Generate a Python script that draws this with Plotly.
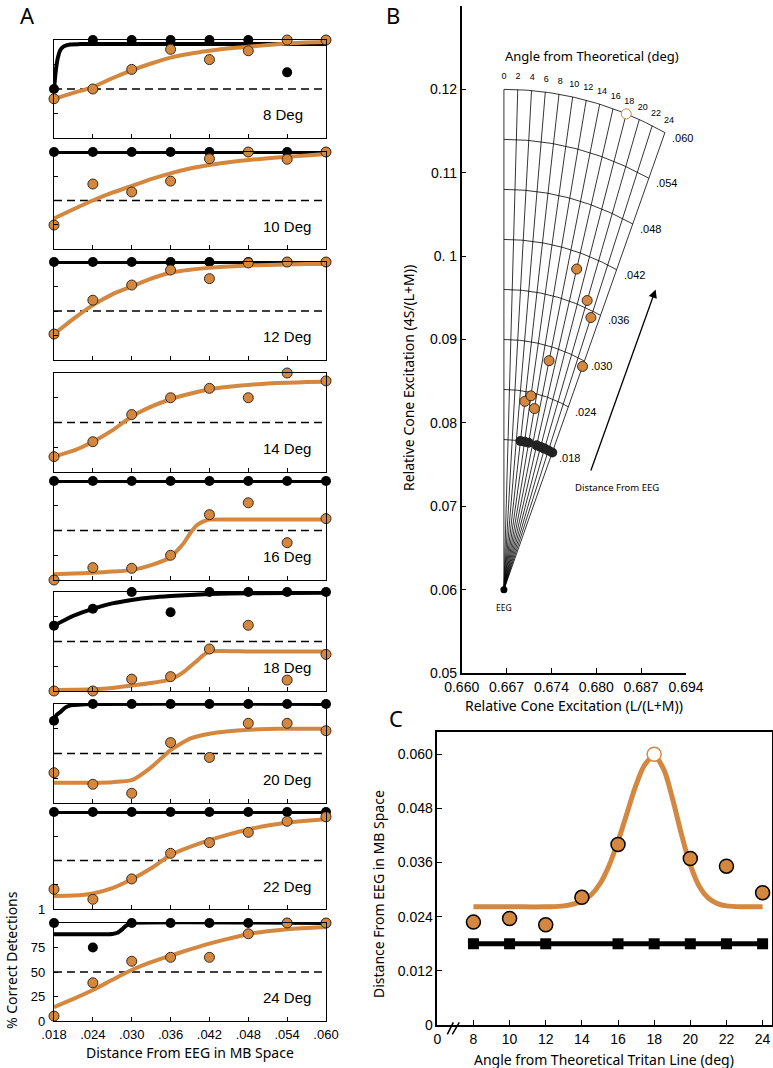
import numpy as np
import plotly.graph_objects as go

W, H = 773, 1068
ORANGE = '#D4873F'
EDGE = '#3b2b1c'

# ---- panel A: percent correct vs distance from EEG ----
dist = [0.018, 0.024, 0.030, 0.036, 0.042, 0.048, 0.054, 0.060]
dist_labels = ['.018', '.024', '.030', '.036', '.042', '.048', '.054', '.060']
angles = [8, 10, 12, 14, 16, 18, 20, 22, 24]

black_pct = [
    [50, 100, 100, 100, 100, 100, 67, 100],
    [100, 100, 100, 100, 100, 100, 100, 100],
    [100, 100, 100, 100, 100, 100, 100, 100],
    None,
    [100, 100, 100, 100, 100, 100, 100, 100],
    [66, 83, 100, 79.5, 100, 100, 100, 100],
    [83, 100, 100, 100, 100, 100, 100, 100],
    [100, 100, 100, 100, 100, 100, 100, 100],
    [100, 75, 100, 100, 100, 100, 100, 100],
]
orange_pct = [
    [40, 50, 70, 90.5, 80, 89, 100, 100],
    [24.7, 67, 58.8, 70, 93, 100, 92.5, 100],
    [26.5, 61, 76.5, 91.8, 83, 99, 100, 100],
    [15.5, 30.6, 58, 75, 84.5, 75, 100, 92],
    [0, 12.5, 11.8, 25, 66, 78, 37.7, 62],
    [0, 0, 12, 14.5, 42.4, 66.4, 11, 37],
    [30.6, 18.9, 9.8, 61, 46, 80.5, 80.5, 73],
    [20.3, 10, 31, 57.4, 68.4, 79, 90.4, 95],
    [5, 39, 61, 65, 65, 89, 100, 100],
]

# fitted curves
black_fit_x = [
    [0.018, 0.0183, 0.0186, 0.019, 0.0195, 0.0205, 0.022, 0.060],
    [0.018, 0.060],
    [0.018, 0.060],
    None,
    [0.018, 0.060],
    [0.018, 0.021, 0.024, 0.027, 0.030, 0.033, 0.036, 0.042, 0.048, 0.060],
    [0.018, 0.0184, 0.019, 0.0198, 0.0206, 0.024, 0.060],
    [0.018, 0.060],
    [0.018, 0.026, 0.027, 0.0278, 0.0285, 0.029, 0.0295, 0.030, 0.060],
]
black_fit_y = [
    [50, 70, 82, 90, 93.5, 95.5, 95.8, 96],
    [100, 100],
    [100, 100],
    None,
    [100, 100],
    [66, 76, 83, 88.5, 92, 94.5, 96, 98, 98.8, 99.3],
    [83, 89, 92, 96.6, 98.6, 100, 100],
    [100, 100],
    [88.5, 88.5, 88.7, 90, 93.5, 96.5, 98.8, 100, 100],
]
fit_grid = [0.018, 0.021, 0.024, 0.027, 0.030, 0.033, 0.036, 0.039,
            0.042, 0.045, 0.048, 0.051, 0.054, 0.057, 0.060]
kink_grid = [0.018, 0.021, 0.024, 0.027, 0.030, 0.033, 0.036, 0.038,
             0.039, 0.040, 0.041, 0.042, 0.048, 0.054, 0.060]
orange_fit_x = [fit_grid, fit_grid, fit_grid, fit_grid, kink_grid,
                kink_grid, fit_grid, fit_grid, fit_grid]
orange_fit_y = [
    [40, 46, 52, 61, 69, 76, 82, 86, 89, 91.5, 93, 95, 96.5, 97.5, 98],
    [31.6, 41, 50, 58, 65, 72, 78, 83, 86.6, 89.5, 91.7, 93.5, 95, 96.5, 98],
    [26.5, 42, 56, 67, 75, 83, 89, 92, 94, 95.5, 96.5, 97, 97.5, 98, 98],
    [15.5, 21.5, 30.6, 42, 56, 66, 73.5, 79, 83.5, 86, 88, 89.3, 90.2, 90.8, 91.2],
    [5.7, 6.5, 7.4, 8.5, 10, 15, 23, 37, 47, 55, 59, 61, 61, 61, 61],
    [1, 1.3, 1.7, 3, 5.4, 8, 11.8, 19, 24.6, 30, 36, 40, 40, 40, 40],
    [20.5, 20.5, 20.5, 21, 23, 36, 53.5, 65, 70, 72.5, 74, 74.8, 75, 75, 75],
    [13.4, 13.8, 16, 21.5, 30.6, 42, 55.7, 64, 71, 77, 82, 86, 89, 91, 92.5],
    [14, 22.5, 31.6, 42, 52, 60, 66.7, 73, 79, 84, 88.8, 91.5, 93.5, 95, 96],
]

# ---- panels B and C: thresholds per angle ----
thresh = [0.0228, 0.0236, 0.0222, 0.0283, 0.0400, 0.0600, 0.0369, 0.0352, 0.0293]
open_mark = [False, False, False, False, False, True, False, False, False]
black_angles = [8, 10, 12, 16, 18, 20, 22, 24]
black_thresh = [0.018, 0.018, 0.018, 0.018, 0.018, 0.018, 0.018, 0.018]
peak_x = [8, 10, 12, 13, 14, 14.5, 15, 15.5, 16, 16.5, 17, 17.5, 18,
          18.5, 19, 19.5, 20, 20.5, 21, 21.5, 22, 23, 24]
peak_y = [0.0262, 0.0262, 0.0262, 0.0264, 0.0274, 0.0288, 0.0313, 0.0353,
          0.0407, 0.0470, 0.0532, 0.0578, 0.0595, 0.0569, 0.0504, 0.0424,
          0.0355, 0.0307, 0.0281, 0.0269, 0.0264, 0.0262, 0.0262]
grid_angles = [0, 2, 4, 6, 8, 10, 12, 14, 16, 18, 20, 22, 24]
grid_dist = [0.018, 0.024, 0.030, 0.036, 0.042, 0.048, 0.054, 0.060]
eeg_lm, eeg_s = 0.6664, 0.060
lm_ticks = [0.660, 0.6668, 0.6736, 0.6804, 0.6872, 0.694]
lm_labels = ['0.660', '0.667', '0.674', '0.680', '0.687', '0.694']
s_ticks = [0.05, 0.06, 0.07, 0.08, 0.09, 0.10, 0.11, 0.12, 0.13]
s_labels = ['0.05', '0.06', '0.07', '0.08', '0.09', '0. 1', '0.11', '0.12', '0.13']
c_xticks = [6, 8, 10, 12, 14, 16, 18, 20, 22, 24]
c_xlabels = ['0', '8', '10', '12', '14', '16', '18', '20', '22', '24']
c_yticks = [0, 0.012, 0.024, 0.036, 0.048, 0.060]
c_ylabels = ['0', '0.012', '0.024', '0.036', '0.048', '0.060']


def px(x):
    return x / W


def py(y):
    return 1 - y / H


def sfx(n):
    return '' if n == 1 else str(n)


fig = go.Figure()
layout = {}
annotations = []
axis_style = dict(showline=True, linecolor='black', showgrid=False,
                  zeroline=False, automargin=False, ticks='inside',
                  tickcolor='black')

# panel A frames (top, bottom in pixels)
a_rows = [(40, 138), (152, 249), (262, 360), (373, 472), (481, 580),
          (592, 691), (704, 803), (812, 909), (923, 1021)]
for i, ang in enumerate(angles):
    n = i + 1
    xa, ya = 'x' + sfx(n), 'y' + sfx(n)
    top, bot = a_rows[i]
    bottom_panel = i == len(angles) - 1
    layout['xaxis' + sfx(n)] = dict(
        domain=[px(54), px(326)], anchor=ya, range=[0.018, 0.060],
        tickvals=dist, ticktext=dist_labels if bottom_panel else [''] * 8,
        ticklen=4, mirror=True, linewidth=1.3, ticklabelstandoff=1,
        tickfont=dict(size=13), **axis_style)
    if bottom_panel:
        ylab = ['0', '25', '50', '75', '']
    elif i == 7:
        ylab = ['1', '', '', '', '']
    else:
        ylab = [''] * 5
    layout['yaxis' + sfx(n)] = dict(
        domain=[py(bot), py(top)], anchor=xa, range=[0, 100],
        tickvals=[0, 25, 50, 75, 100], ticktext=ylab,
        ticklen=4, mirror=True, linewidth=1.3, ticklabelstandoff=5,
        tickfont=dict(size=13), **axis_style)

    fig.add_trace(go.Scatter(x=[dist[0], dist[-1]], y=[50, 50], mode='lines',
                             line=dict(color='black', width=1.3, dash='8px,5px'),
                             xaxis=xa, yaxis=ya, showlegend=False))
    if black_fit_x[i] is not None:
        fig.add_trace(go.Scatter(x=black_fit_x[i], y=black_fit_y[i], mode='lines',
                                 line=dict(color='black', width=4, shape='spline',
                                           smoothing=0.5),
                                 xaxis=xa, yaxis=ya, cliponaxis=False,
                                 showlegend=False))
    if black_pct[i] is not None:
        fig.add_trace(go.Scatter(x=dist, y=black_pct[i], mode='markers',
                                 marker=dict(color='black', size=10),
                                 xaxis=xa, yaxis=ya, cliponaxis=False,
                                 showlegend=False))
    fig.add_trace(go.Scatter(x=orange_fit_x[i], y=orange_fit_y[i], mode='lines',
                             line=dict(color=ORANGE, width=4, shape='spline',
                                       smoothing=0.5),
                             xaxis=xa, yaxis=ya, cliponaxis=False,
                             showlegend=False))
    fig.add_trace(go.Scatter(x=dist, y=orange_pct[i], mode='markers',
                             marker=dict(color=ORANGE, size=10,
                                         line=dict(color=EDGE, width=1)),
                             xaxis=xa, yaxis=ya, cliponaxis=False,
                             showlegend=False))
    annotations.append(dict(x=0.0500, y=23.5, xref=xa, yref=ya,
                            text='%d Deg' % ang, showarrow=False,
                            xanchor='left', yanchor='middle',
                            font=dict(size=15)))

# panel B: spider grid in MB space
gx, gy = [], []
for a in grid_angles:
    t = np.radians(a)
    gx += [eeg_lm, eeg_lm + grid_dist[-1] * np.sin(t), None]
    gy += [eeg_s, eeg_s + grid_dist[-1] * np.cos(t), None]
arc_t = np.radians(np.linspace(0, 24, 49))
for d in grid_dist:
    gx += list(eeg_lm + d * np.sin(arc_t)) + [None]
    gy += list(eeg_s + d * np.cos(arc_t)) + [None]
fig.add_trace(go.Scatter(x=gx, y=gy, mode='lines',
                         line=dict(color='black', width=0.8),
                         xaxis='x10', yaxis='y10', showlegend=False))

t_lab = np.radians(grid_angles)
fig.add_trace(go.Scatter(x=eeg_lm + 0.0615 * np.sin(t_lab),
                         y=eeg_s + 0.0615 * np.cos(t_lab),
                         mode='text', text=[str(a) for a in grid_angles],
                         textfont=dict(size=9), xaxis='x10', yaxis='y10',
                         cliponaxis=False, showlegend=False))
t24 = np.radians(grid_angles[-1])
for d in grid_dist:
    annotations.append(dict(x=eeg_lm + d * np.sin(t24), y=eeg_s + d * np.cos(t24),
                            xref='x10', yref='y10', text=('%.3f' % d)[1:],
                            showarrow=False, xanchor='left', yanchor='middle',
                            xshift=5, yshift=-5, font=dict(size=11)))

bt = np.radians(black_angles)
fig.add_trace(go.Scatter(x=eeg_lm + np.array(black_thresh) * np.sin(bt),
                         y=eeg_s + np.array(black_thresh) * np.cos(bt),
                         mode='markers', marker=dict(color='#222222', size=10),
                         xaxis='x10', yaxis='y10', showlegend=False))
ot = np.radians(angles)
th = np.array(thresh)
fig.add_trace(go.Scatter(x=eeg_lm + th * np.sin(ot), y=eeg_s + th * np.cos(ot),
                         mode='markers',
                         marker=dict(color=['white' if o else ORANGE for o in open_mark],
                                     size=10,
                                     line=dict(color=[ORANGE if o else EDGE for o in open_mark],
                                               width=1)),
                         xaxis='x10', yaxis='y10', showlegend=False))
fig.add_trace(go.Scatter(x=[eeg_lm], y=[eeg_s], mode='markers',
                         marker=dict(color='black', size=7),
                         xaxis='x10', yaxis='y10', cliponaxis=False,
                         showlegend=False))
annotations.append(dict(x=eeg_lm, y=eeg_s, xref='x10', yref='y10', text='EEG',
                        showarrow=False, yshift=-18,
                        font=dict(size=8.5, family='Noto Sans')))
annotations.append(dict(x=0.6894, y=0.0960, ax=0.6795, ay=0.0741,
                        xref='x10', yref='y10', axref='x10', ayref='y10',
                        text='', showarrow=True, arrowhead=2, arrowsize=1.3,
                        arrowwidth=1.3, arrowcolor='black'))

layout['xaxis10'] = dict(domain=[px(461.7), px(686)], anchor='y10',
                         range=[0.660, 0.694], tickvals=lm_ticks, ticktext=lm_labels,
                         ticklen=5, linewidth=1.5, tickfont=dict(size=14),
                         **axis_style)
layout['yaxis10'] = dict(domain=[py(673), py(6)], anchor='x10',
                         range=[0.05, 0.13], tickvals=s_ticks, ticktext=s_labels,
                         ticklen=5, linewidth=1.5, tickfont=dict(size=14),
                         **axis_style)

# panel C: threshold vs angle
fig.add_trace(go.Scatter(x=black_angles, y=black_thresh, mode='lines+markers',
                         line=dict(color='black', width=5),
                         marker=dict(color='black', symbol='square', size=11),
                         xaxis='x11', yaxis='y11', showlegend=False))
fig.add_trace(go.Scatter(x=peak_x, y=peak_y, mode='lines',
                         line=dict(color=ORANGE, width=5, shape='spline'),
                         xaxis='x11', yaxis='y11', showlegend=False))
fig.add_trace(go.Scatter(x=angles, y=thresh, mode='markers',
                         marker=dict(color=['white' if o else ORANGE for o in open_mark],
                                     size=14,
                                     line=dict(color=[ORANGE if o else 'black' for o in open_mark],
                                               width=1.5)),
                         xaxis='x11', yaxis='y11', cliponaxis=False,
                         showlegend=False))
layout['xaxis11'] = dict(domain=[px(437.3), px(772)], anchor='y11',
                         range=[6, 24.52], tickvals=c_xticks, ticktext=c_xlabels,
                         ticklen=5, mirror=True, linewidth=1.5,
                         tickfont=dict(size=14), **axis_style)
layout['yaxis11'] = dict(domain=[py(1025), py(731.7)], anchor='x11',
                         range=[0, 0.065], tickvals=c_yticks, ticktext=c_ylabels,
                         ticklen=5, mirror=True, linewidth=1.5,
                         tickfont=dict(size=14), **axis_style)

# axis break marks on panel C
shapes = [
    dict(type='line', xref='paper', yref='paper', x0=px(447.3), y0=py(1034.3),
         x1=px(453.3), y1=py(1022.3), line=dict(color='black', width=1.5)),
    dict(type='line', xref='paper', yref='paper', x0=px(452.3), y0=py(1034.3),
         x1=px(459.3), y1=py(1022.3), line=dict(color='black', width=1.5)),
]

# titles and panel letters
title_font = dict(family='Noto Sans', size=14, color='black')
texts = [
    ('Distance From EEG in MB Space', 190, 1052, 0, title_font),
    ('% Correct Detections', 11, 960, -90, title_font),
    ('Relative Cone Excitation (L/(L+M))', 574, 705, 0, title_font),
    ('Relative Cone Excitation (4S/(L+M))', 408, 378, -90, title_font),
    ('Angle from Theoretical Tritan Line (deg)', 604, 1059, 0, title_font),
    ('Distance From EEG in MB Space', 378, 894, -90, title_font),
    ('Angle from Theoretical (deg)', 592, 56, 0, dict(family='Noto Sans', size=13)),
    ('Distance From EEG', 617, 487, 0, dict(family='Noto Sans', size=9.5)),
    ('A', 28, 15, 0, dict(family='Noto Sans', size=22)),
    ('B', 393, 15, 0, dict(family='Noto Sans', size=22)),
    ('C', 396, 718, 0, dict(family='Noto Sans', size=22)),
]
for txt, x, y, rot, f in texts:
    annotations.append(dict(x=px(x), y=py(y), xref='paper', yref='paper',
                            text=txt, showarrow=False, textangle=rot,
                            xanchor='center', yanchor='middle', font=f))

layout.update(dict(template='none', width=W, height=H,
                   margin=dict(l=0, r=0, t=0, b=0, pad=0),
                   paper_bgcolor='white', plot_bgcolor='white',
                   font=dict(family='Liberation Sans', color='black'),
                   annotations=annotations, shapes=shapes, showlegend=False))
fig.update_layout(**layout)

# the page's default body margin would push the figure 8px right and down
fig.write_html("out.html", config={'displayModeBar': False},
               post_script="document.body.style.margin = '0';")
